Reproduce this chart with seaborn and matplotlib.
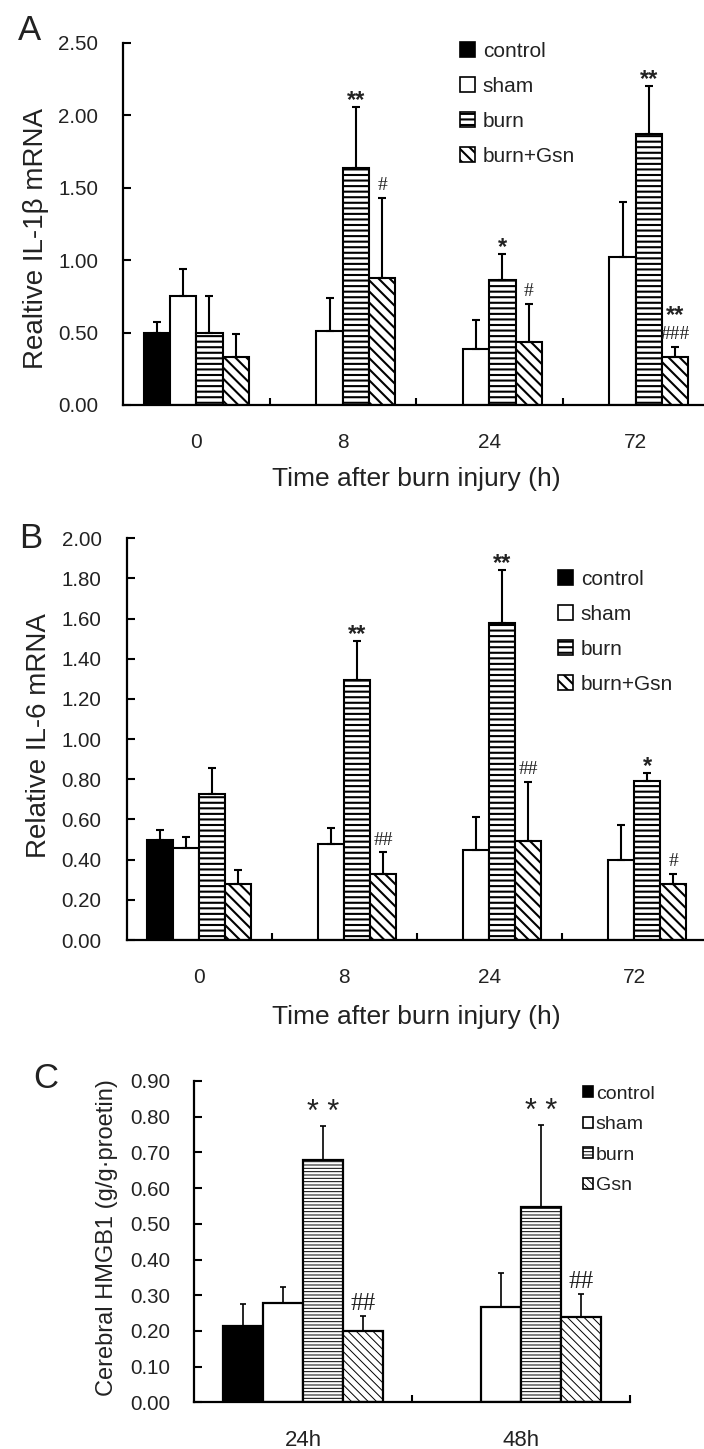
import numpy as np
import pandas as pd
import matplotlib
matplotlib.use("Agg")
import matplotlib.pyplot as plt
from matplotlib.patches import Patch
import seaborn as sns

nan = np.nan

# Panel A: IL-1beta mRNA
times_ab = ["0", "8", "24", "72"]
groups_ab = ["control", "sham", "burn", "burn+Gsn"]
il1b_control = [0.50, nan, nan, nan]
il1b_sham = [0.75, 0.51, 0.39, 1.02]
il1b_burn = [0.50, 1.64, 0.86, 1.87]
il1b_gsn = [0.33, 0.88, 0.435, 0.33]
il1b_control_err = [0.07, nan, nan, nan]
il1b_sham_err = [0.19, 0.23, 0.20, 0.38]
il1b_burn_err = [0.25, 0.42, 0.18, 0.335]
il1b_gsn_err = [0.16, 0.55, 0.265, 0.07]
il1b_burn_star = ["", "**", "*", "**"]
il1b_gsn_hash = ["", "#", "#", "###"]
il1b_gsn_star = ["", "", "", "**"]

# Panel B: IL-6 mRNA
il6_control = [0.50, nan, nan, nan]
il6_sham = [0.46, 0.48, 0.45, 0.40]
il6_burn = [0.725, 1.295, 1.58, 0.79]
il6_gsn = [0.28, 0.33, 0.495, 0.28]
il6_control_err = [0.05, nan, nan, nan]
il6_sham_err = [0.054, 0.076, 0.164, 0.173]
il6_burn_err = [0.13, 0.195, 0.26, 0.04]
il6_gsn_err = [0.07, 0.106, 0.291, 0.05]
il6_burn_star = ["", "**", "**", "*"]
il6_gsn_hash = ["", "##", "##", "#"]

# Panel C: cerebral HMGB1
times_c = ["24h", "48h"]
groups_c = ["control", "sham", "burn", "Gsn"]
hmgb1_control = [0.214, nan]
hmgb1_sham = [0.279, 0.268]
hmgb1_burn = [0.68, 0.548]
hmgb1_gsn = [0.20, 0.24]
hmgb1_control_err = [0.061, nan]
hmgb1_sham_err = [0.045, 0.095]
hmgb1_burn_err = [0.094, 0.229]
hmgb1_gsn_err = [0.042, 0.063]
hmgb1_burn_star = ["* *", "* *"]
hmgb1_gsn_hash = ["##", "##"]

FACES = ["black", "white", "white", "white"]

sns.set_style("ticks")
plt.rcParams["font.family"] = ["Liberation Sans", "DejaVu Sans"]
TXT = "#222222"


def long_table(times, groups, means, errs):
    rows = []
    for g, m_list, e_list in zip(groups, means, errs):
        for t, m, e in zip(times, m_list, e_list):
            if not np.isnan(m):
                rows.append({"time": t, "group": g, "value": m, "err": e})
    return pd.DataFrame(rows)


def draw_panel(ax, times, groups, means, errs, stars, hashes, st):
    plt.rcParams["hatch.linewidth"] = st["hlw"]
    df = long_table(times, groups, means, errs)
    sns.barplot(data=df, x="time", y="value", hue="group", order=times,
                hue_order=groups, palette=dict(zip(groups, FACES)),
                width=st["width"], saturation=1, edgecolor="black",
                linewidth=st["lw"], errorbar=None, legend=False, ax=ax)
    n = len(groups)
    bw = st["width"] / n
    for p in ax.patches:
        c = p.get_x() + p.get_width() / 2
        h = p.get_height()
        ti = int(round(c))
        gi = int(round((c - ti + st["width"] / 2) / bw - 0.5))
        p.set_hatch(st["hatches"][gi])
        if hasattr(p, "set_hatch_linewidth"):
            p.set_hatch_linewidth(st["hlw"])
        row = df[(df["time"] == times[ti]) & (df["group"] == groups[gi])].iloc[0]
        e = row["err"]
        ax.errorbar(c, h, yerr=[[0], [e]], fmt="none", ecolor="black",
                    elinewidth=st["elw"], capsize=st["cap"],
                    capthick=st["elw"], zorder=3)
        hs = hashes[gi][ti] if hashes[gi] else ""
        ss = stars[gi][ti] if stars[gi] else ""
        off = 0
        if hs:
            ax.annotate(hs, (c, h + e), xytext=(0, st["hash_off"]),
                        textcoords="offset points", ha="center",
                        va="baseline", fontsize=st["hash_fs"],
                        family="Liberation Serif", color=TXT)
            off = st["stack"]
        if ss:
            ax.annotate(ss, (c, h + e), xytext=(0, st["star_off"] + off),
                        textcoords="offset points", ha="center",
                        va="baseline", fontsize=st["star_fs"],
                        fontweight=st["star_w"], color=TXT)
    ax.set_xlim(-0.5, len(times) - 0.5)
    ax.set_xticks(np.arange(len(times)) + 0.5, minor=True)
    ax.tick_params(axis="x", which="major", length=0, pad=20,
                   labelsize=st["xfs"], labelcolor=TXT)
    ax.tick_params(axis="x", which="minor", direction="in", length=5,
                   width=1.5, color="black")
    ax.tick_params(axis="y", direction="in", length=6, width=1.5,
                   pad=st["ypad"], labelsize=14.8, labelcolor=TXT,
                   color="black")
    for s in ["top", "right"]:
        ax.spines[s].set_visible(False)
    for s in ["left", "bottom"]:
        ax.spines[s].set_linewidth(1.6)
        ax.spines[s].set_color("black")
    handles = [Patch(facecolor=f, edgecolor="black", hatch=h, linewidth=1.2)
               for f, h in zip(FACES, st["hatches"])]
    ax.legend(handles, groups, loc="center left",
              bbox_to_anchor=st["leg_at"], bbox_transform=ax.figure.transFigure,
              frameon=False, borderpad=0, borderaxespad=0,
              handlelength=st["hl"], handleheight=st["hl"],
              handletextpad=st["htp"], labelspacing=st["ls"],
              fontsize=st["lfs"], labelcolor=TXT)


W, H = 704, 1449
fig = plt.figure(figsize=(W / 100, H / 100), dpi=100)

style_ab = dict(width=0.72, lw=1.5, hatches=["", "", "---", "\\\\\\"], hlw=1.5,
                elw=1.5, cap=3.2, hash_fs=14, hash_off=5.5, star_fs=17,
                star_off=0, star_w="bold", stack=18, xfs=15, ypad=18, hl=0.7,
                htp=0.4, ls=0.77, lfs=15)

axA = fig.add_axes([123 / W, 1 - 405 / H, 4 * 146.5 / W, 362 / H])
draw_panel(axA, times_ab, groups_ab,
           [il1b_control, il1b_sham, il1b_burn, il1b_gsn],
           [il1b_control_err, il1b_sham_err, il1b_burn_err, il1b_gsn_err],
           [None, None, il1b_burn_star, il1b_gsn_star],
           [None, None, None, il1b_gsn_hash],
           dict(style_ab, leg_at=(460 / W, 1 - 104 / H)))
axA.set_ylim(0, 2.5)
axA.set_yticks(np.arange(0, 2.51, 0.5))
axA.set_yticklabels([f"{v:.2f}" for v in np.arange(0, 2.51, 0.5)])
axA.set_ylabel("Realtive IL-1β mRNA", fontsize=20, color=TXT)
axA.yaxis.set_label_coords(-0.127, 0.459)
axA.set_xlabel("Time after burn injury (h)", fontsize=19, color=TXT)
axA.xaxis.set_label_coords(0.5, -0.171)

axB = fig.add_axes([126.7 / W, 1 - 940 / H, 4 * 145 / W, 401.7 / H])
draw_panel(axB, times_ab, groups_ab,
           [il6_control, il6_sham, il6_burn, il6_gsn],
           [il6_control_err, il6_sham_err, il6_burn_err, il6_gsn_err],
           [None, None, il6_burn_star, None],
           [None, None, None, il6_gsn_hash],
           dict(style_ab, leg_at=(558 / W, 1 - 632 / H)))
axB.set_ylim(0, 2.0)
axB.set_yticks(np.arange(0, 2.01, 0.2))
axB.set_yticklabels([f"{v:.2f}" for v in np.arange(0, 2.01, 0.2)])
axB.set_ylabel("Relative IL-6 mRNA", fontsize=20, color=TXT)
axB.yaxis.set_label_coords(-0.129, 0.509)
axB.set_xlabel("Time after burn injury (h)", fontsize=19, color=TXT)
axB.xaxis.set_label_coords(0.5, -0.162)

style_c = dict(width=0.734, lw=1.6, hatches=["", "", "-----", "\\\\\\\\"],
               hlw=0.7, elw=1.2, cap=2.5, hash_fs=18, hash_off=4.3,
               star_fs=22, star_off=3.5, star_w="normal", stack=14, xfs=16,
               ypad=17.5, hl=0.5, htp=0.15, ls=0.70, lfs=14,
               leg_at=(583 / W, 1 - 1140 / H))
axC = fig.add_axes([194.3 / W, 1 - 1402.3 / H, 435.7 / W, 321.3 / H])
draw_panel(axC, times_c, groups_c,
           [hmgb1_control, hmgb1_sham, hmgb1_burn, hmgb1_gsn],
           [hmgb1_control_err, hmgb1_sham_err, hmgb1_burn_err, hmgb1_gsn_err],
           [None, None, hmgb1_burn_star, None],
           [None, None, None, hmgb1_gsn_hash],
           style_c)
axC.set_ylim(0, 0.9)
axC.set_yticks(np.arange(0, 0.91, 0.1))
axC.set_yticklabels([f"{v:.2f}" for v in np.arange(0, 0.91, 0.1)])
axC.set_ylabel("Cerebral HMGB1 (g/g·proetin)", fontsize=17, color=TXT)
axC.yaxis.set_label_coords(-0.175, 0.513)
axC.set_xlabel("")

for letter, x, y in [("A", 30, 30), ("B", 31, 539), ("C", 46, 1078)]:
    fig.text(x / W, 1 - y / H, letter, ha="center", va="center", fontsize=25,
             color=TXT)

fig.savefig("out.png", dpi=100)
